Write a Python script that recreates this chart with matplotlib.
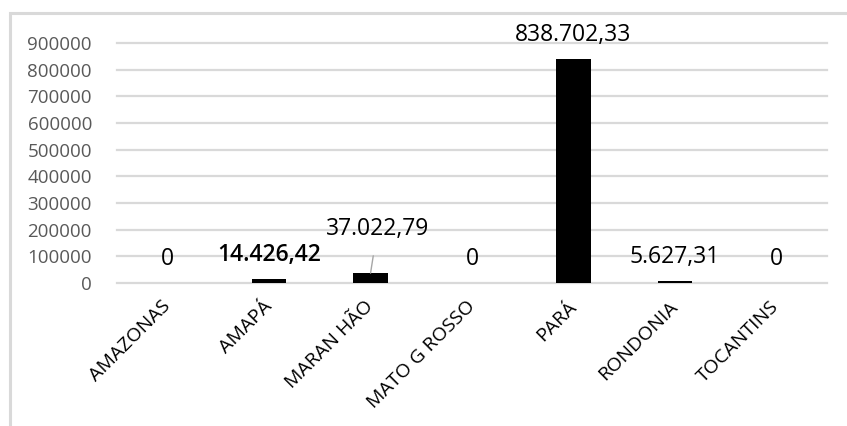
import matplotlib.pyplot as plt
from matplotlib.patches import Rectangle

# Valores por estado
estados = ['AMAZONAS', 'AMAPÁ', 'MARAN HÃO', 'MATO G ROSSO', 'PARÁ', 'RONDONIA', 'TOCANTINS']
valores = [0, 14426.42, 37022.79, 0, 838702.33, 5627.31, 0]
yticks = [0, 100000, 200000, 300000, 400000, 500000, 600000, 700000, 800000, 900000]


def fmt_br(v):
    if v == 0:
        return '0'
    s = f'{v:,.2f}'
    return s.replace(',', 'X').replace('.', ',').replace('X', '.')


plt.rcParams['font.family'] = ['Open Sans', 'DejaVu Sans']

fig = plt.figure(figsize=(8.47, 4.26), dpi=100)
ax = fig.add_axes([0.1381, 0.3357, 0.8383, 0.5634])

x = range(len(estados))
ax.bar(x, valores, width=0.34, color='black', zorder=3)

ax.set_xlim(-0.5, len(estados) - 0.5)
ax.set_ylim(0, 900000)
ax.set_yticks(yticks)
ax.set_yticklabels([str(t) for t in yticks], color='#595959', fontsize=13.5)
ax.yaxis.grid(True, color='#d9d9d9', linewidth=1.6)
for gl in ax.get_ygridlines():
    gl.set_clip_on(False)
ax.set_axisbelow(True)
for s in ax.spines.values():
    s.set_visible(False)
ax.tick_params(axis='y', length=0, pad=18)
ax.tick_params(axis='x', length=0, pad=15)

ax.set_xticks(list(x))
ax.set_xticklabels(estados, rotation=45, ha='right', va='center',
                   rotation_mode='anchor', fontsize=14, color='black')

# rótulos de dados
for i, v in enumerate(valores):
    peso = 'semibold' if estados[i] == 'AMAPÁ' else 'normal'
    if estados[i] == 'MARAN HÃO':
        ax.annotate(fmt_br(v), xy=(i, v), xytext=(5, 32), textcoords='offset points',
                    ha='center', va='center', fontsize=16.5,
                    arrowprops=dict(arrowstyle='-', color='#a6a6a6', lw=1,
                                    shrinkA=9, shrinkB=0))
    else:
        ax.annotate(fmt_br(v), xy=(i, v), xytext=(0, 17.5), textcoords='offset points',
                    ha='center', va='center', fontsize=16.5, fontweight=peso)

# moldura do gráfico
fig.add_artist(Rectangle((10 / 847, -0.1), 1.2, 1.0695, transform=fig.transFigure,
                         fill=False, edgecolor='#d9d9d9', linewidth=2.2))

fig.savefig('out.png', dpi=100)
